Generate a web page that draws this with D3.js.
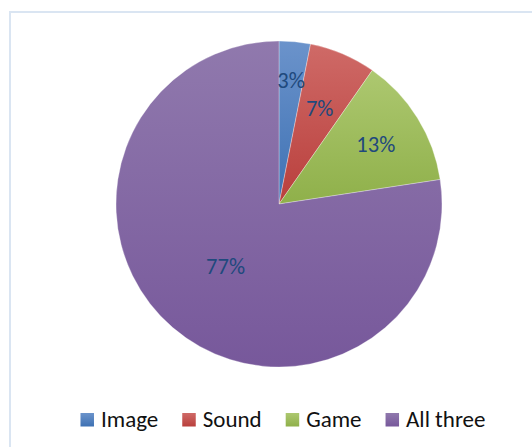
<!DOCTYPE html>
<html>
<head>
<meta charset="utf-8">
<script src="https://cdn.jsdelivr.net/npm/d3@7/dist/d3.min.js"></script>
<style>
  html, body { margin: 0; padding: 0; background: #fff; }
  svg { display: block; }
</style>
</head>
<body>
<svg id="chart" width="532" height="447"></svg>
<script>
// Data
const categories = ["Image", "Sound", "Game", "All three"];
const values = [3.1, 6.6, 12.9, 77.4];
const labels = ["3%", "7%", "13%", "77%"];
const colorsTop = ["#6b93cb", "#cf6a67", "#adc870", "#9079ad"];
const colorsBottom = ["#3e71b3", "#b93f3c", "#8fb04a", "#77589b"];

const svg = d3.select("#chart");
const W = 532, H = 447;
const cx = 279, cy = 204, R = 163;
const font = "Carlito, Lato, 'Open Sans', sans-serif";

// chart border
svg.append("rect")
  .attr("x", 10).attr("y", 12)
  .attr("width", W).attr("height", H)
  .attr("fill", "#fff")
  .attr("stroke", "#dae5f2").attr("stroke-width", 2);

const defs = svg.append("defs");
categories.forEach((c, i) => {
  const g = defs.append("linearGradient")
    .attr("id", "grad" + i)
    .attr("x1", 0).attr("y1", 0).attr("x2", 0).attr("y2", 1);
  g.append("stop").attr("offset", "0%").attr("stop-color", colorsTop[i]);
  g.append("stop").attr("offset", "100%").attr("stop-color", colorsBottom[i]);
});

const data = categories.map((c, i) => ({ cat: c, value: values[i], label: labels[i], i }));

const pie = d3.pie().sort(null).value(d => d.value);
const arcs = pie(data);
const arc = d3.arc().innerRadius(0).outerRadius(R);

const g = svg.append("g").attr("transform", `translate(${cx},${cy})`);
g.selectAll("path.slice")
  .data(arcs)
  .enter().append("path")
  .attr("class", "slice")
  .attr("d", arc)
  .attr("fill", d => `url(#grad${d.data.i})`)
  .attr("stroke", "rgba(255,255,255,0.5)")
  .attr("stroke-width", 0.6);

// label radii (best-fit placement like the original)
const labelR = [124, 104, 114, 82];
g.selectAll("text.lbl")
  .data(arcs)
  .enter().append("text")
  .attr("class", "lbl")
  .attr("transform", d => {
    const a = (d.startAngle + d.endAngle) / 2;
    const r = labelR[d.data.i];
    return `translate(${Math.sin(a) * r},${-Math.cos(a) * r})`;
  })
  .attr("text-anchor", "middle")
  .attr("dy", "0.35em")
  .attr("font-family", font)
  .attr("font-size", 22.5)
  .attr("fill", "#1f497d")
  .text(d => d.data.label);

// legend
const legend = svg.append("g");
const sq = 13.5, gap = 7, spacing = 24;
const items = legend.selectAll("g.item").data(data).enter().append("g").attr("class", "item");
items.append("rect")
  .attr("width", sq).attr("height", sq)
  .attr("y", 413)
  .attr("fill", d => `url(#grad${d.i})`);
items.append("text")
  .attr("y", 426.5)
  .attr("font-family", font)
  .attr("font-size", 23)
  .attr("fill", "#111")
  .text(d => d.cat);
let x = 0;
const widths = [];
items.each(function () {
  const tw = d3.select(this).select("text").node().getComputedTextLength();
  widths.push(tw);
});
let total = widths.reduce((s, w) => s + sq + gap + w, 0) + spacing * (widths.length - 1);
x = 283 - total / 2;
items.each(function (d, i) {
  const it = d3.select(this);
  it.select("rect").attr("x", x);
  it.select("text").attr("x", x + sq + gap);
  x += sq + gap + widths[i] + spacing;
});
</script>
</body>
</html>
